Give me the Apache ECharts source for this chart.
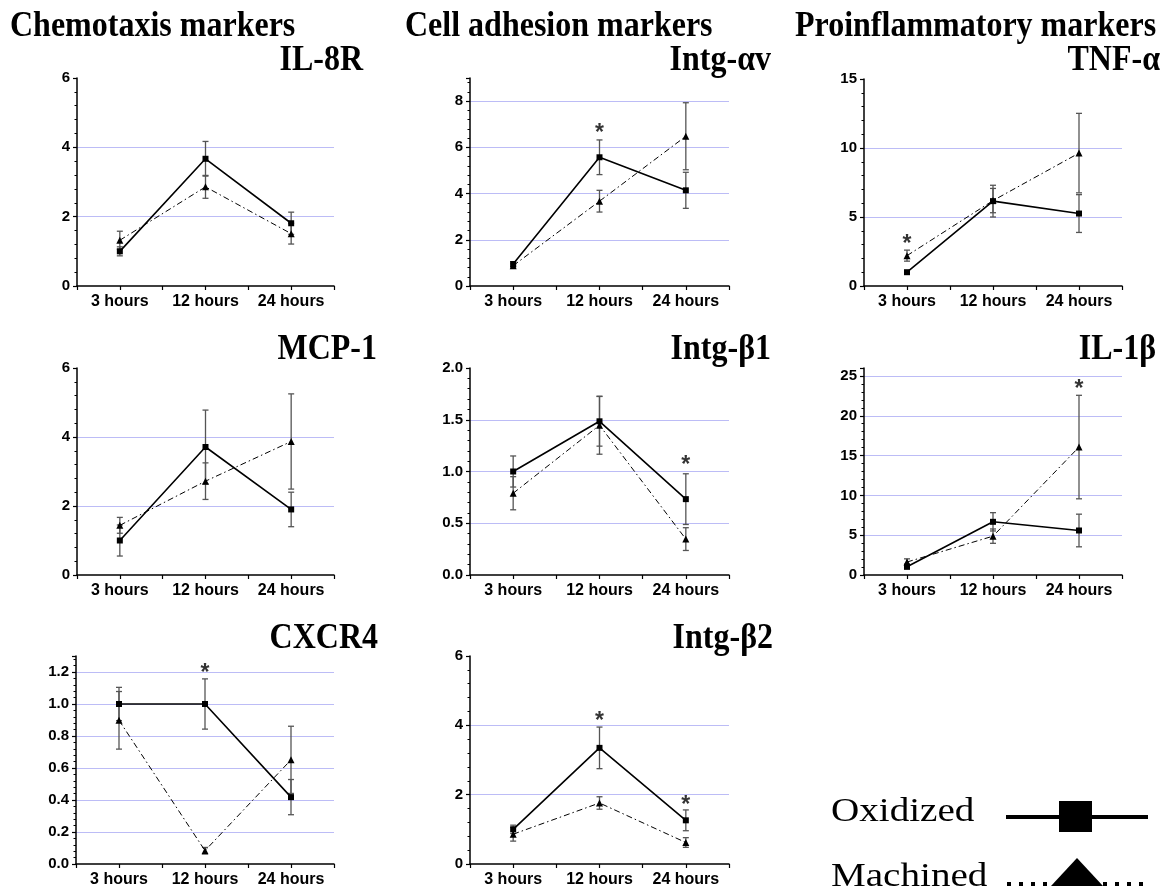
<!DOCTYPE html>
<html>
<head>
<meta charset="utf-8">
<script src="https://cdn.jsdelivr.net/npm/echarts@6/dist/echarts.min.js"></script>
<style>
html,body{margin:0;padding:0;background:#fff;}
#chart{width:1167px;height:888px;}
</style>
</head>
<body>
<div id="chart"></div>
<script>
// ---------- data ----------
const categories = ['3 hours', '12 hours', '24 hours'];
const groupHeaders = ['Chemotaxis markers', 'Cell adhesion markers', 'Proinflammatory markers'];
const seriesNames = ['Oxidized', 'Machined'];

const il8rOx = [1.0, 3.67, 1.81];      const il8rOxErr = [0.13, 0.5, 0.32];
const il8rMa = [1.32, 2.86, 1.51];     const il8rMaErr = [0.26, 0.33, 0.3];
const il8rStar = [null, null, null];

const intgAvOx = [0.95, 5.57, 4.14];   const intgAvOxErr = [0.1, 0.75, 0.78];
const intgAvMa = [0.88, 3.67, 6.48];   const intgAvMaErr = [0.08, 0.47, 1.45];
const intgAvStar = [null, 6.84, null];

const tnfOx = [1.0, 6.15, 5.25];       const tnfOxErr = [0.12, 1.15, 1.37];
const tnfMa = [2.2, 6.19, 9.63];       const tnfMaErr = [0.4, 0.88, 2.88];
const tnfStar = [3.43, null, null];

const mcpOx = [1.0, 3.71, 1.9];        const mcpOxErr = [0.45, 1.07, 0.5];
const mcpMa = [1.44, 2.72, 3.87];      const mcpMaErr = [0.23, 0.53, 1.38];
const mcpStar = [null, null, null];

const intgB1Ox = [1.0, 1.485, 0.733];  const intgB1OxErr = [0.15, 0.24, 0.245];
const intgB1Ma = [0.79, 1.447, 0.347]; const intgB1MaErr = [0.16, 0.28, 0.11];
const intgB1Star = [null, null, 1.116];

const il1bOx = [1.04, 6.68, 5.59];     const il1bOxErr = [0.3, 1.15, 2.05];
const il1bMa = [1.63, 4.88, 16.07];    const il1bMaErr = [0.4, 0.9, 6.5];
const il1bStar = [null, null, 24.0];

const cxcr4Ox = [1.0, 1.0, 0.418];     const cxcr4OxErr = [0.104, 0.157, 0.11];
const cxcr4Ma = [0.898, 0.0835, 0.651];const cxcr4MaErr = [0.18, 0.02, 0.21];
const cxcr4Star = [null, 1.23, null];

const intgB2Ox = [1.0, 3.35, 1.26];    const intgB2OxErr = [0.12, 0.6, 0.3];
const intgB2Ma = [0.86, 1.76, 0.62];   const intgB2MaErr = [0.2, 0.18, 0.14];
const intgB2Star = [null, 4.28, 1.87];

// axis scales per panel
const yMaxes     = [6, 9, 15, 6, 2, 26, 1.3, 6];
const yIntervals = [2, 2, 5, 2, 0.5, 5, 0.2, 2];
const yDecimals  = [0, 0, 0, 0, 1, 0, 1, 0];

const panelData = [
  {title: 'IL-8R',   ox: il8rOx,   oxErr: il8rOxErr,   ma: il8rMa,   maErr: il8rMaErr,   star: il8rStar},
  {title: 'Intg-αv', ox: intgAvOx, oxErr: intgAvOxErr, ma: intgAvMa, maErr: intgAvMaErr, star: intgAvStar},
  {title: 'TNF-α',   ox: tnfOx,    oxErr: tnfOxErr,    ma: tnfMa,    maErr: tnfMaErr,    star: tnfStar},
  {title: 'MCP-1',   ox: mcpOx,    oxErr: mcpOxErr,    ma: mcpMa,    maErr: mcpMaErr,    star: mcpStar},
  {title: 'Intg-β1', ox: intgB1Ox, oxErr: intgB1OxErr, ma: intgB1Ma, maErr: intgB1MaErr, star: intgB1Star},
  {title: 'IL-1β',   ox: il1bOx,   oxErr: il1bOxErr,   ma: il1bMa,   maErr: il1bMaErr,   star: il1bStar},
  {title: 'CXCR4',   ox: cxcr4Ox,  oxErr: cxcr4OxErr,  ma: cxcr4Ma,  maErr: cxcr4MaErr,  star: cxcr4Star},
  {title: 'Intg-β2', ox: intgB2Ox, oxErr: intgB2OxErr, ma: intgB2Ma, maErr: intgB2MaErr, star: intgB2Star}
];

// ---------- layout (positions / sizes) ----------
const layout = [
  {left: 77,  top: 78,  width: 257, height: 208, tx: 363,  ty: 73},
  {left: 470, top: 78,  width: 259, height: 208, tx: 771,  ty: 73},
  {left: 864, top: 79,  width: 258, height: 207, tx: 1160, ty: 73},
  {left: 77,  top: 368, width: 257, height: 207, tx: 377,  ty: 362},
  {left: 470, top: 368, width: 259, height: 207, tx: 771,  ty: 362},
  {left: 864, top: 368, width: 258, height: 207, tx: 1156, ty: 362},
  {left: 76,  top: 656, width: 258, height: 208, tx: 378,  ty: 651},
  {left: 470, top: 656, width: 259, height: 208, tx: 773,  ty: 651}
];
const headerPos = [{x: 10, y: 39}, {x: 405, y: 39}, {x: 795, y: 39}];

const SANS = '"Liberation Sans", Arial, sans-serif';
const SERIF = '"Liberation Serif", "Times New Roman", serif';
const GRIDLINE = '#bcbcf6';
const ERRCOL = '#555';

function errRender(params, api) {
  const x = api.value(0), lo = api.value(1), hi = api.value(2);
  const p1 = api.coord([x, hi]);
  const p2 = api.coord([x, lo]);
  const hw = 3;
  const st = {stroke: ERRCOL, lineWidth: 1.3};
  return {
    type: 'group',
    children: [
      {type: 'line', shape: {x1: p1[0], y1: p1[1], x2: p2[0], y2: p2[1]}, style: st},
      {type: 'line', shape: {x1: p1[0] - hw, y1: p1[1], x2: p1[0] + hw, y2: p1[1]}, style: st},
      {type: 'line', shape: {x1: p2[0] - hw, y1: p2[1], x2: p2[0] + hw, y2: p2[1]}, style: st}
    ]
  };
}

const grids = [], xAxes = [], yAxes = [], series = [], graphics = [];

panelData.forEach((p, i) => {
  const L = layout[i];
  grids.push({left: L.left, top: L.top, width: L.width, height: L.height});
  // main x axis (ticks at category boundaries, labels)
  xAxes.push({
    type: 'category', gridIndex: i, data: categories, position: 'bottom',
    axisLine: {lineStyle: {color: '#000', width: 1.5}},
    axisTick: {show: true, interval: 0, length: 4, lineStyle: {color: '#000', width: 1.2}},
    axisLabel: {interval: 0, hideOverlap: false, color: '#000', fontFamily: SANS, fontWeight: 'bold', fontSize: 16, margin: 8},
    splitLine: {show: false}
  });
  // second x axis: ticks at category centres only
  xAxes.push({
    type: 'category', gridIndex: i, data: categories, position: 'bottom',
    axisLine: {show: false},
    axisTick: {show: true, interval: 0, alignWithLabel: true, length: 4, lineStyle: {color: '#000', width: 1.2}},
    axisLabel: {show: false},
    splitLine: {show: false}
  });
  yAxes.push({
    type: 'value', gridIndex: i, min: 0, max: yMaxes[i], interval: yIntervals[i],
    axisLine: {show: true, lineStyle: {color: '#000', width: 1.5}},
    axisTick: {show: true, length: 4, lineStyle: {color: '#000', width: 1.2}},
    minorTick: {show: true, splitNumber: 5, length: 2.5, lineStyle: {color: '#000', width: 1}},
    axisLabel: {
      color: '#000', fontFamily: SANS, fontWeight: 'bold', fontSize: 15, margin: 7,
      showMaxLabel: (yMaxes[i] % yIntervals[i] < 1e-9 || Math.abs(yMaxes[i] % yIntervals[i] - yIntervals[i]) < 1e-9),
      formatter: (v) => Number(v).toFixed(yDecimals[i])
    },
    splitLine: {show: true, showMinLine: false, showMaxLine: false, lineStyle: {color: GRIDLINE, width: 1}}
  });
  const xi = i * 2;
  // error bars
  series.push({
    type: 'custom', xAxisIndex: xi, yAxisIndex: i, renderItem: errRender, z: 1,
    encode: {x: 0, y: [1, 2]}, silent: true,
    data: p.ox.map((v, k) => [k, v - p.oxErr[k], v + p.oxErr[k]])
  });
  series.push({
    type: 'custom', xAxisIndex: xi, yAxisIndex: i, renderItem: errRender, z: 1,
    encode: {x: 0, y: [1, 2]}, silent: true,
    data: p.ma.map((v, k) => [k, v - p.maErr[k], v + p.maErr[k]])
  });
  series.push({
    name: seriesNames[0], type: 'line', xAxisIndex: xi, yAxisIndex: i, data: p.ox, z: 3,
    symbol: 'rect', symbolSize: 6, showAllSymbol: true,
    lineStyle: {color: '#000', width: 1.6}, itemStyle: {color: '#000'}, animation: false
  });
  series.push({
    name: seriesNames[1], type: 'line', xAxisIndex: xi, yAxisIndex: i, data: p.ma, z: 2,
    symbol: 'triangle', symbolSize: 7, showAllSymbol: true,
    lineStyle: {color: '#000', width: 1, type: [6, 3, 1.5, 3]}, itemStyle: {color: '#000'}, animation: false
  });
  const starData = [];
  p.star.forEach((v, k) => { if (v !== null) starData.push([k, v]); });
  if (starData.length) {
    series.push({
      type: 'scatter', xAxisIndex: xi, yAxisIndex: i, data: starData, z: 4,
      symbolSize: 1, itemStyle: {color: 'rgba(0,0,0,0)'}, silent: true,
      label: {show: true, formatter: '*', position: 'inside', offset: [0, 6],
              color: '#000', fontFamily: SANS, fontWeight: 'bold', fontSize: 23}
    });
  }
  graphics.push({
    type: 'text', x: L.tx, y: L.ty + 6, scaleY: 1.12,
    style: {text: p.title, fill: '#000', font: 'bold 32px ' + SERIF, align: 'right', verticalAlign: 'bottom'}
  });
});

groupHeaders.forEach((h, j) => {
  graphics.push({
    type: 'text', x: headerPos[j].x, y: headerPos[j].y + 6, scaleY: 1.12,
    style: {text: h, fill: '#000', font: 'bold 32px ' + SERIF, align: 'left', verticalAlign: 'bottom'}
  });
});

// legend drawn as graphics
graphics.push({
  type: 'text', x: 831, y: 822 + 7, scaleX: 1.15,
  style: {text: seriesNames[0], fill: '#000', font: '34px ' + SERIF, align: 'left', verticalAlign: 'bottom'}
});
graphics.push({type: 'line', shape: {x1: 1006, y1: 817, x2: 1148, y2: 817}, style: {stroke: '#000', lineWidth: 4}});
graphics.push({type: 'rect', shape: {x: 1059, y: 801, width: 33, height: 31}, style: {fill: '#000'}});
graphics.push({
  type: 'text', x: 831, y: 887 + 7, scaleX: 1.15,
  style: {text: seriesNames[1], fill: '#000', font: '34px ' + SERIF, align: 'left', verticalAlign: 'bottom'}
});
graphics.push({type: 'line', shape: {x1: 1007, y1: 884, x2: 1150, y2: 884}, style: {stroke: '#000', lineWidth: 4, lineDash: [4, 8]}});
graphics.push({type: 'polygon', shape: {points: [[1077, 858], [1103, 886], [1051, 886]]}, style: {fill: '#000'}});

const chart = echarts.init(document.getElementById('chart'), null, {renderer: 'canvas'});
chart.setOption({
  animation: false,
  backgroundColor: '#fff',
  grid: grids,
  xAxis: xAxes,
  yAxis: yAxes,
  series: series,
  graphic: graphics
});
</script>
</body>
</html>
